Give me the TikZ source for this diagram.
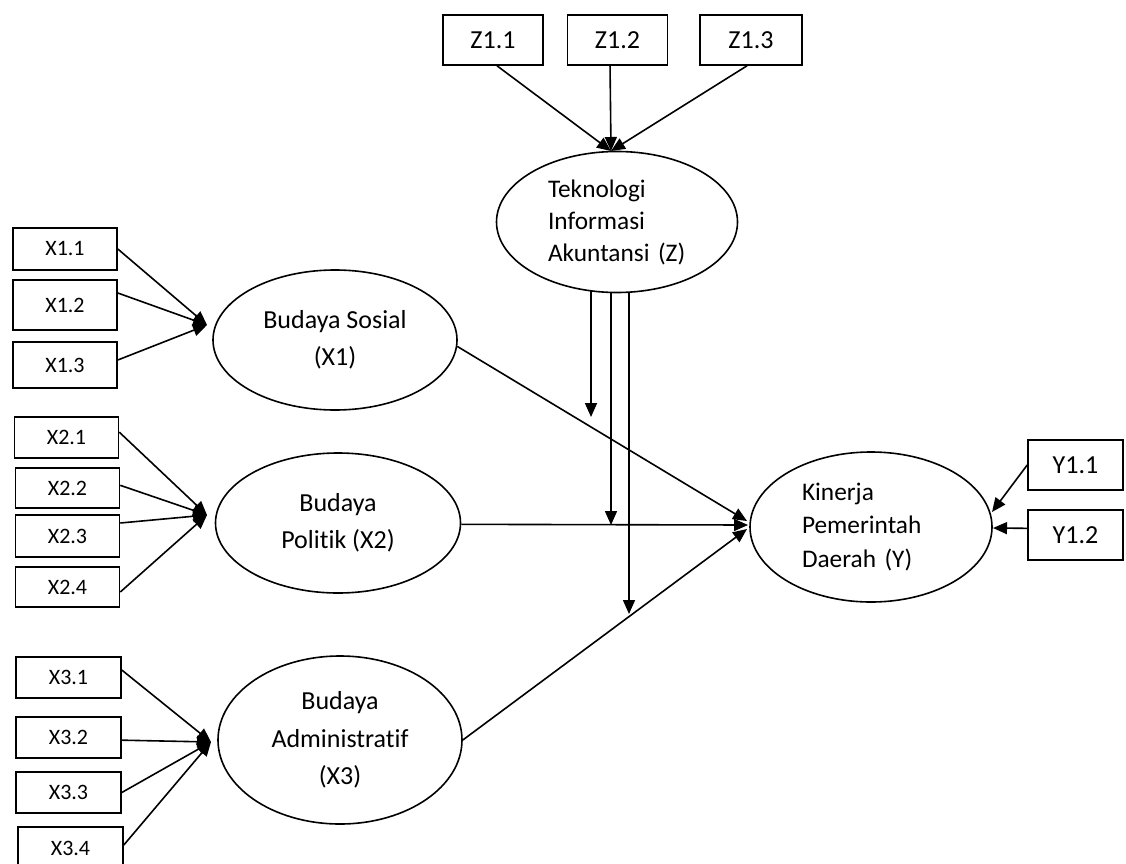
\documentclass[tikz,border=0pt]{standalone}
\usepackage{fontspec}
\setmainfont{Carlito}[Ligatures=NoCommon]
\usetikzlibrary{arrows.meta,shapes.geometric,calc}
\begin{document}
\begin{tikzpicture}[x=0.75pt,y=-0.75pt,
  ind/.style={draw,line width=1.2pt,minimum width=78pt,minimum height=31.5pt,inner sep=0pt,font=\fontsize{16.5}{18}\selectfont},
  zbox/.style={draw,line width=1.2pt,minimum width=75pt,minimum height=37.5pt,inner sep=0pt,font=\fontsize{19.5}{21}\selectfont},
  lat/.style={draw,ellipse,line width=1.2pt,fill=white,inner sep=0pt,align=center,font=\fontsize{19.5}{28}\selectfont},
  arr/.style={line width=1.2pt,-{Triangle[length=10.5pt,width=9pt]}},
  ln/.style={line width=1.2pt}]
\clip (0,0) rectangle (1126,863);
\fill[white] (0,0) rectangle (1126,863);

% latent variables
\node[lat,minimum width=183pt,minimum height=105pt] (X1) at (335,340) {Budaya Sosial\\(X1)};
\node[lat,minimum width=183.75pt,minimum height=105pt] (X2) at (338,523) {Budaya\\Politik (X2)};
\node[lat,minimum width=183pt,minimum height=126pt] (X3) at (340,740) {Budaya\\Administratif\\(X3)};
\node[lat,minimum width=180.75pt,minimum height=105.75pt,text width=103.5pt,align=left,font=\fontsize{19}{24}\selectfont] (Z) at (617,222) {Teknologi\\Informasi\\Akuntansi (Z)};
\node[lat,minimum width=181.5pt,minimum height=112.5pt,text width=103.5pt,align=left,font=\fontsize{19}{25}\selectfont] (Y) at (871,527) {Kinerja\\Pemerintah\\Daerah (Y)};

% indicators Z
\node[zbox] (z11) at (493,40) {Z1.1};
\node[zbox] (z12) at (617.5,40) {Z1.2};
\node[zbox,minimum width=76.5pt] (z13) at (751,40) {Z1.3};

% indicators Y
\node[zbox,minimum width=71.25pt] (y11) at (1075.5,465) {Y1.1};
\node[zbox,minimum width=71.25pt] (y12) at (1075.5,535) {Y1.2};

% indicators X1
\node[ind] (x11) at (65,249) {X1.1};
\node[ind,minimum height=37.5pt] (x12) at (65,305) {X1.2};
\node[ind,minimum height=34.5pt] (x13) at (65,365) {X1.3};
% indicators X2
\node[ind,minimum height=30.75pt] (x21) at (66.5,437.5) {X2.1};
\node[ind,minimum height=30pt] (x22) at (67.5,488) {X2.2};
\node[ind,minimum height=31.5pt] (x23) at (67.5,536) {X2.3};
\node[ind,minimum height=30pt] (x24) at (67.5,587) {X2.4};
% indicators X3
\node[ind,minimum width=78.75pt,minimum height=30.75pt] (x31) at (68.5,677.5) {X3.1};
\node[ind,minimum width=78.75pt,minimum height=30.75pt] (x32) at (68.5,737.5) {X3.2};
\node[ind,minimum width=78.75pt,minimum height=30.75pt] (x33) at (68.5,792.5) {X3.3};
\node[ind,minimum width=78.75pt,minimum height=31.5pt] (x34) at (70.5,848) {X3.4};

% convergence points
\coordinate (x1in) at (207,325);
\coordinate (x2in) at (207,515);
\coordinate (x3in) at (211,742);
\coordinate (zin) at (611,151);
\coordinate (yin1) at (747,521);
\coordinate (yin2) at (748,525);
\coordinate (yin3) at (747,529);
\coordinate (yr1) at (992,512);
\coordinate (yr2) at (993,528);
\coordinate (m1) at (591,417);
\coordinate (m2) at (611,525);
\coordinate (m3) at (629,614);

% X1 indicators
\draw[arr] (x11.east) -- (x1in);
\draw[arr] ([yshift=9pt]x12.east) -- (x1in);
\draw[arr] ([yshift=3.75pt]x13.east) -- (x1in);
% X2 indicators
\draw[arr] ([yshift=4pt]x21.east) -- (x2in);
\draw[arr] ([yshift=2pt]x22.east) -- (x2in);
\draw[arr] ([yshift=9.75pt]x23.east) -- (x2in);
\draw[arr] ([yshift=-3.75pt]x24.east) -- (x2in);
% X3 indicators
\draw[arr] ([yshift=5.6pt]x31.east) -- (x3in);
\draw[arr] ([yshift=-2pt]x32.east) -- (x3in);
\draw[arr] (x33.east) -- (x3in);
\draw[arr] ([yshift=2.25pt]x34.east) -- (x3in);
% Z indicators
\draw[arr] ([xshift=3pt]z11.south) -- (zin);
\draw[arr] ([xshift=-5.6pt]z12.south) -- (zin);
\draw[arr] ([xshift=-3pt]z13.south) -- (zin);
% Y indicators
\draw[arr] (y11.west) -- (yr1);
\draw[arr] ([yshift=5pt]y12.west) -- (yr2);

% structural paths
\draw[arr] (X1.-3) -- (yin1);
\draw[arr] ([yshift=-1pt]X2.east) -- (yin2);
\draw[arr] (X3.east) -- (yin3);

% moderating arrows
\draw[arr] ($(Z.south -| m1)+(0,-2)$) -- (m1);
\draw[arr] ($(Z.south -| m2)+(0,-1)$) -- (m2);
\draw[arr] ($(Z.south -| m3)+(0,-1)$) -- (m3);
\end{tikzpicture}
\end{document}
